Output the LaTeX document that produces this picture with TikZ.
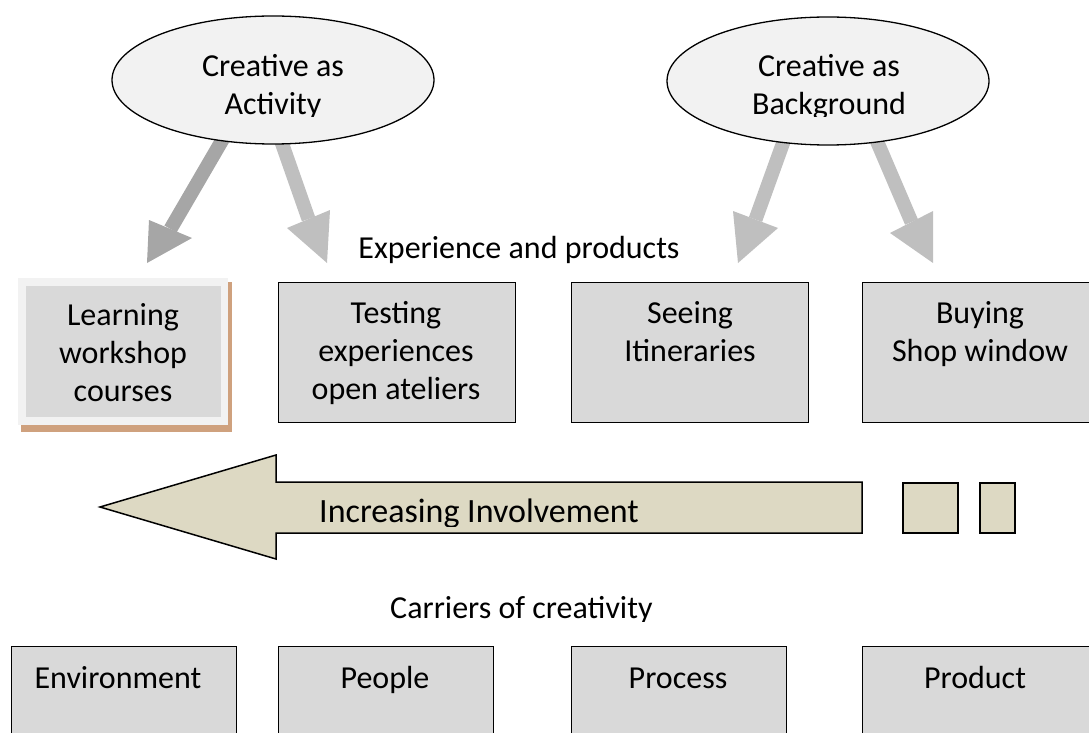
\documentclass[tikz,border=0pt]{standalone}
\usepackage{fontspec}
\setmainfont{Carlito}
\usetikzlibrary{shapes.geometric}
\definecolor{boxgray}{HTML}{D9D9D9}
\definecolor{ellfill}{HTML}{F2F2F2}
\definecolor{tanfill}{HTML}{DDD9C3}
\definecolor{darkarrow}{HTML}{A6A6A6}
\definecolor{lightarrow}{HTML}{BFBFBF}
\definecolor{shadowtan}{HTML}{CFA17E}
\begin{document}
\begin{tikzpicture}[x=1pt,y=-1pt,
  txt/.style={font=\fontsize{32}{38}\selectfont, inner sep=0pt, align=flush center},
  boxnode/.style={draw=black, line width=1.3pt, fill=boxgray, rectangle, inner sep=0pt, anchor=north west},
  ellnode/.style={ellipse, draw=black, line width=1.3pt, fill=ellfill, inner sep=0pt, minimum width=322pt, minimum height=128pt},
  tansq/.style={draw=black, line width=1.5pt, fill=tanfill, rectangle, inner sep=0pt, anchor=north west},
  shaftdark/.style={draw=darkarrow, line width=14pt},
  shaftlight/.style={draw=lightarrow, line width=14pt}]
\useasboundingbox (0,0) rectangle (1089,733);
\clip (0,0) rectangle (1089,733);

% ---- arrows from ellipses (drawn first, ellipses cover their tops)
\coordinate (a1s) at (227,132); \coordinate (a1e) at (170.5,229);
\coordinate (a2s) at (278,132); \coordinate (a2e) at (308.5,219);
\coordinate (a3s) at (787,132); \coordinate (a3e) at (755.5,219.5);
\coordinate (a4s) at (873,132); \coordinate (a4e) at (911.5,222);
\draw[shaftdark] (a1s) -- (a1e);
\fill[darkarrow] (149,220) -- (192,238) -- (147,263) -- cycle;
\draw[shaftlight] (a2s) -- (a2e);
\fill[lightarrow] (287,228) -- (330,210) -- (327,263) -- cycle;
\draw[shaftlight] (a3s) -- (a3e);
\fill[lightarrow] (733,211) -- (778,228) -- (738,263) -- cycle;
\draw[shaftlight] (a4s) -- (a4e);
\fill[lightarrow] (890,233) -- (933,211) -- (933,263) -- cycle;

% ---- ellipses
\node[ellnode] (act) at (273,80) {};
\node[ellnode] (bkg) at (828,81) {};
\begin{scope}
  \clip (100,0) rectangle (450,117);
  \node[txt, text width=300pt, anchor=base] (actt) at (273,77) {Creative as\\Activity};
\end{scope}
\begin{scope}
  \clip (650,0) rectangle (1000,117);
  \node[txt, text width=300pt, anchor=base] (bkgt) at (829,77) {Creative as\\Background};
\end{scope}

% ---- heading
\begin{scope}
  \clip (300,200) rectangle (760,264);
  \node[txt, anchor=base] (exp) at (519,258) {Experience and products};
\end{scope}

% ---- top row
\fill[shadowtan] (21,282) rectangle (232,432);
\fill[ellfill] (18,278) rectangle (228,425);
\node[rectangle, fill=boxgray, inner sep=0pt, anchor=north west, minimum width=195pt, minimum height=131pt] (learn) at (26,286) {};
\node[txt, text width=200pt, anchor=base] (learnt) at (123,325) {Learning\\workshop\\courses};

\node[boxnode, minimum width=237pt, minimum height=140pt] (test) at (278,282) {};
\node[txt, text width=230pt, anchor=base] (testt) at (396,323) {Testing\\experiences\\open ateliers};
\node[boxnode, minimum width=237pt, minimum height=140pt] (see) at (571,282) {};
\node[txt, text width=230pt, anchor=base] (seet) at (690,323) {Seeing\\Itineraries};
\node[boxnode, minimum width=237pt, minimum height=140pt] (buy) at (862,282) {};
\node[txt, text width=230pt, anchor=base] (buyt) at (980,323) {Buying\\Shop window};

% ---- involvement arrow
\draw[fill=tanfill, line width=1.5pt, line join=miter]
  (100,507) -- (276,455) -- (276,482) -- (862,482) -- (862,533) -- (276,533) -- (276,559) -- cycle;
\begin{scope}
  \clip (300,480) rectangle (860,526);
  \node[txt, font=\fontsize{34}{40}\selectfont, anchor=base west] (inv) at (319,522) {Increasing Involvement};
\end{scope}
\node[tansq, minimum width=55pt, minimum height=50pt] (sq1) at (902,482) {};
\node[tansq, minimum width=35pt, minimum height=50pt] (sq2) at (979,482) {};

% ---- carriers
\begin{scope}
  \clip (300,580) rectangle (760,621);
  \node[txt, anchor=base west] (car) at (390,618) {Carriers of creativity};
\end{scope}
\node[boxnode, minimum width=225pt, minimum height=120pt] (env) at (11,646) {};
\node[txt, anchor=base] (envt) at (118,688) {Environment};
\node[boxnode, minimum width=215pt, minimum height=120pt] (peo) at (278,646) {};
\node[txt, anchor=base] (peot) at (385,688) {People};
\node[boxnode, minimum width=215pt, minimum height=120pt] (pro) at (571,646) {};
\node[txt, anchor=base] (prot) at (678,688) {Process};
\node[boxnode, minimum width=237pt, minimum height=120pt] (prd) at (862,646) {};
\node[txt, anchor=base] (prdt) at (975,688) {Product};
\end{tikzpicture}
\end{document}
